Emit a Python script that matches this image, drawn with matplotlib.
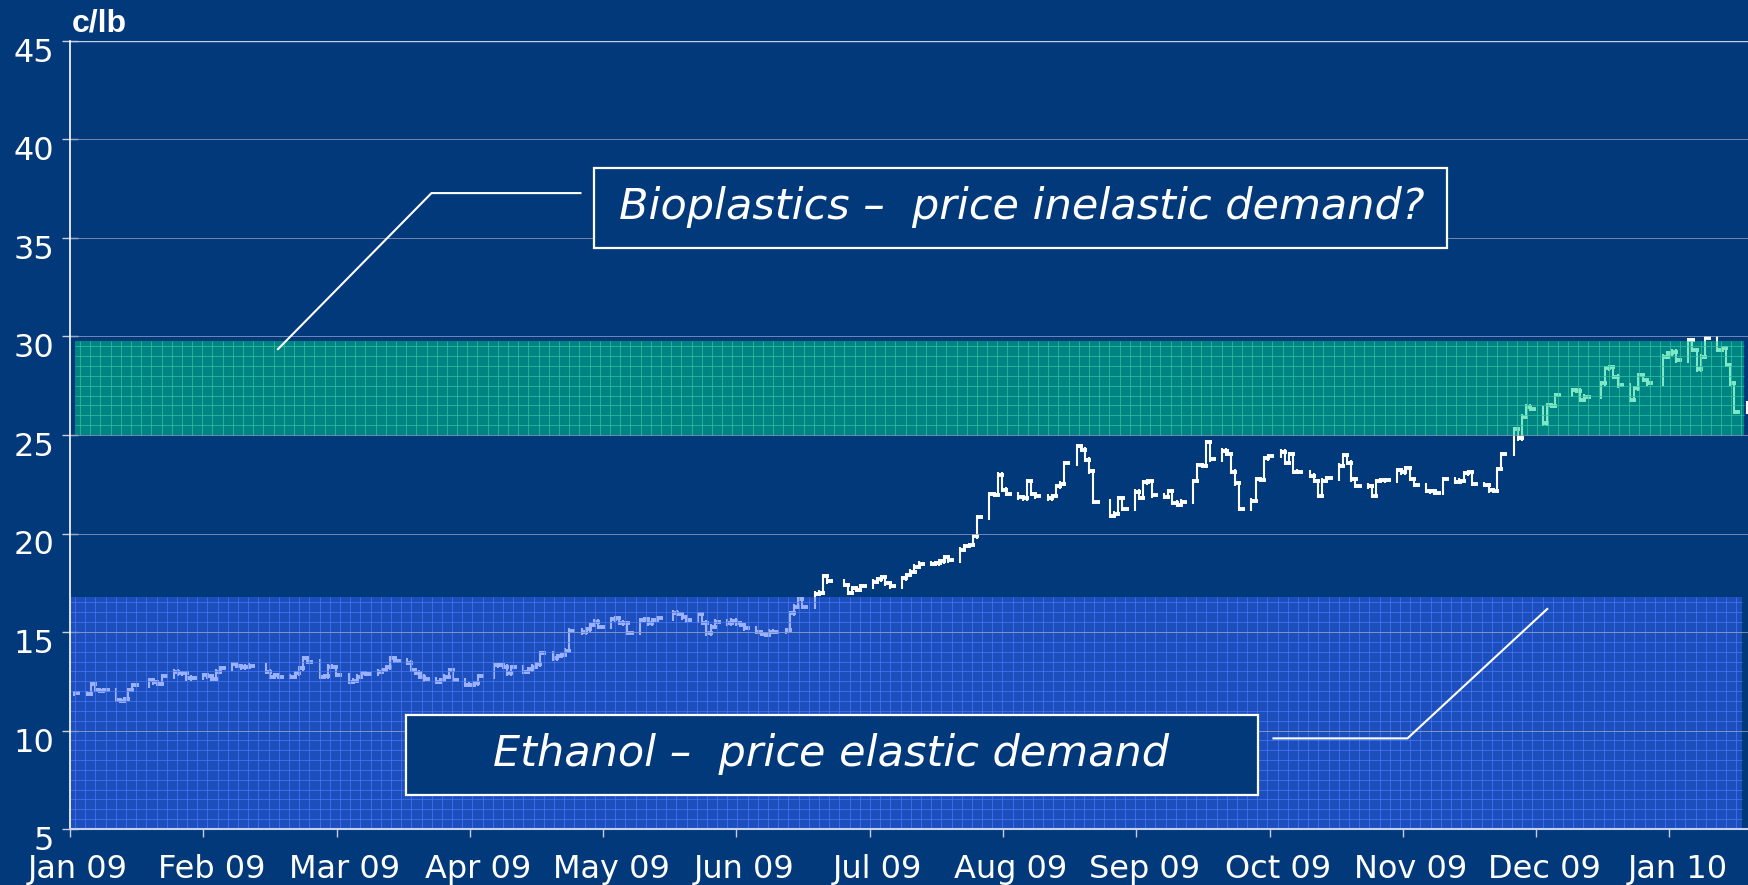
import matplotlib
matplotlib.use("Agg")
import matplotlib.pyplot as plt
from matplotlib.collections import LineCollection
from matplotlib.patches import Rectangle
from matplotlib.transforms import ScaledTranslation
import numpy as np
import pandas as pd

# Sugar #11 front month, daily closes in c/lb, one row per week (Mon..Fri),
# exchange holidays left out of the row
first_monday = "2008-12-29"
start_day = "2009-01-02"
end_day = "2010-02-08"
holidays = ["2009-01-01", "2009-01-19", "2009-02-16", "2009-04-10", "2009-05-25",
            "2009-07-03", "2009-09-07", "2009-11-26", "2009-12-25", "2010-01-01",
            "2010-01-18"]

weekly_close = [
    [11.88],
    [11.85, 12.35, 12.05, 12.00, 12.05],
    [11.55, 11.50, 11.60, 12.05, 12.30],
    [12.55, 12.45, 12.38, 12.75],
    [12.98, 12.90, 12.90, 12.65, 12.68],
    [12.82, 12.75, 12.62, 12.98, 13.15],
    [13.36, 13.28, 13.20, 13.24, 13.29],
    [12.98, 12.73, 12.82, 12.72],
    [12.73, 12.90, 13.15, 13.66, 13.49],
    [12.73, 12.75, 13.24, 13.22, 12.82],
    [12.48, 12.52, 12.73, 12.90, 12.88],
    [12.98, 13.07, 13.20, 13.66, 13.54],
    [13.44, 13.07, 12.93, 12.73, 12.60],
    [12.48, 12.56, 12.73, 13.07, 12.56],
    [12.31, 12.33, 12.39, 12.75],
    [13.32, 13.30, 13.24, 12.90, 13.20],
    [12.99, 13.10, 13.24, 13.36, 13.92],
    [13.66, 13.78, 13.83, 14.05, 15.07],
    [14.98, 15.14, 15.36, 15.52, 15.27],
    [15.64, 15.69, 15.47, 15.44, 14.97],
    [15.61, 15.64, 15.44, 15.61, 15.69],
    [15.98, 15.91, 15.74, 15.60],
    [15.90, 15.47, 14.93, 15.27, 15.52],
    [15.44, 15.58, 15.44, 15.36, 15.19],
    [15.00, 14.90, 14.85, 15.02, 15.00],
    [15.10, 15.95, 16.29, 16.66, 16.29],
    [16.95, 17.00, 17.82, 17.58],
    [17.39, 17.00, 17.22, 17.14, 17.31],
    [17.56, 17.68, 17.78, 17.48, 17.31],
    [17.73, 17.90, 18.07, 18.32, 18.46],
    [18.46, 18.49, 18.58, 18.80, 18.63],
    [19.17, 19.37, 19.42, 19.85, 20.83],
    [22.01, 21.96, 22.98, 22.22, 22.01],
    [21.84, 21.79, 22.67, 22.01, 21.88],
    [21.78, 21.91, 22.39, 22.52, 23.57],
    [24.42, 24.25, 23.74, 23.15, 21.62],
    [20.90, 21.00, 21.80, 21.24],
    [22.13, 21.80, 22.60, 22.66, 21.93],
    [21.87, 22.16, 21.57, 21.45, 21.62],
    [22.66, 23.48, 23.44, 24.63, 23.76],
    [24.20, 24.04, 23.14, 22.55, 21.24],
    [21.67, 22.77, 22.72, 23.82, 23.93],
    [24.15, 23.60, 24.04, 23.14, 23.12],
    [22.94, 22.66, 21.92, 22.68, 22.80],
    [23.44, 23.98, 23.60, 22.75, 22.43],
    [22.39, 21.92, 22.66, 22.72, 22.70],
    [23.22, 23.10, 23.31, 22.77, 22.46],
    [22.16, 22.14, 22.07, 22.77],
    [22.63, 22.68, 23.05, 23.10, 22.51],
    [22.46, 22.20, 22.17, 23.27, 24.04],
    [25.29, 24.83, 25.93, 26.44, 26.34],
    [25.59, 26.50, 26.49, 27.03],
    [27.28, 27.25, 26.78, 26.95],
    [27.62, 28.38, 28.43, 27.96, 27.52],
    [26.78, 27.37, 28.05, 27.79, 27.62],
    [28.98, 29.15, 29.23, 28.80],
    [29.82, 29.31, 28.33, 28.98, 29.90],
    [29.31, 29.40, 28.55, 27.62, 26.18],
    [26.60],
]

month_labels = ["Jan 09", "Feb 09", "Mar 09", "Apr 09", "May 09", "Jun 09", "Jul 09",
                "Aug 09", "Sep 09", "Oct 09", "Nov 09", "Dec 09", "Jan 10"]
label_step = 32.04   # days between the (evenly spaced) month labels
x_end = 403.6

# price bands
bio_band = (25, 29.75)
eth_band = (5, 16.8)

navy = "#01397a"


def build_series():
    hol = pd.to_datetime(holidays)
    first = pd.Timestamp(start_day)
    last = pd.Timestamp(end_day)
    origin = pd.Timestamp("2009-01-01")
    xs, cl = [], []
    monday = pd.Timestamp(first_monday)
    for week in weekly_close:
        days = [monday + pd.Timedelta(days=i) for i in range(5)]
        days = [d for d in days if d not in hol and first <= d <= last]
        for d, c in zip(days, week):
            xs.append((d - origin).days)
            cl.append(c)
        monday = monday + pd.Timedelta(days=7)
    return np.array(xs, dtype=float), np.array(cl)


x, close = build_series()
opens = np.r_[close[0], close[:-1]]   # bar starts at previous close
high = np.maximum(opens, close) + 0.12
low = np.minimum(opens, close) - 0.12

fig = plt.figure(figsize=(17.49, 8.85), dpi=100, facecolor=navy)
ax = fig.add_axes([70 / 1749, 1 - 829 / 885, 1679 / 1749, 788 / 885])
ax.set_facecolor(navy)
ax.set_xlim(0, x_end)
ax.set_ylim(5, 45)

# hlc bars
wicks = [[(xi, lo), (xi, hi)] for xi, lo, hi in zip(x, low, high)]
ticks = [[(xi, c), (xi + 1.5, c)] for xi, c in zip(x, close)]
ax.add_collection(LineCollection(wicks, colors="white", linewidths=1.5, zorder=2))
ax.add_collection(LineCollection(ticks, colors="white", linewidths=2.8, zorder=2))


def band(x0, x1, y0, y1, fill, line):
    ax.add_patch(Rectangle((x0, y0), x1 - x0, y1 - y0, facecolor=fill, alpha=0.5,
                           edgecolor="none", zorder=3))
    ax.vlines(np.arange(x0 + 1.2, x1, 2.45), y0, y1, colors=line, linewidth=0.7,
              alpha=0.7, zorder=3.2)
    ax.hlines(np.arange(y0 + 0.5, y1, 0.5), x0, x1, colors=line, linewidth=0.7,
              alpha=0.7, zorder=3.2)


band(1.2, 402.3, bio_band[0], bio_band[1], "#00d08c", "#30c8a0")
band(0, 401.9, eth_band[0], eth_band[1], "#3a66ff", "#4a78ff")

# horizontal grid
for yv in range(10, 45, 5):
    ax.axhline(yv, color="#8f9cc0", linewidth=0.7, alpha=0.8, zorder=4)
ax.axhline(45, color="#c8d0e4", linewidth=1.0, zorder=4)

# annotation boxes and leader lines
ax.add_patch(Rectangle((126.0, 34.51), 205.1, 4.02, facecolor=navy, edgecolor="white",
                       linewidth=1.6, zorder=5))
ax.text(228.8, 36.55, "Bioplastics \u2013  price inelastic demand?", color="white",
        fontsize=31, style="italic", ha="center", va="center", zorder=6)
ax.plot([122.7, 86.9, 50.0], [37.28, 37.28, 29.36], color="white", linewidth=1.5, zorder=5)

ax.add_patch(Rectangle((80.7, 6.73), 204.8, 4.06, facecolor=navy, edgecolor="white",
                       linewidth=1.6, zorder=5))
ax.text(183.0, 8.81, "Ethanol \u2013  price elastic demand", color="white",
        fontsize=31, style="italic", ha="center", va="center", zorder=6)
ax.plot([289.3, 321.5, 355.1], [9.6, 9.6, 16.17], color="white", linewidth=1.5, zorder=5)

# axes styling
for side in ["top", "right"]:
    ax.spines[side].set_visible(False)
ax.spines["left"].set_color("white")
ax.spines["left"].set_linewidth(1.2)
ax.spines["bottom"].set_color("#c8d0f0")
ax.spines["bottom"].set_linewidth(1.5)
ax.spines["left"].set_zorder(6)
ax.spines["bottom"].set_zorder(6)

ax.set_yticks(range(5, 50, 5))
ax.set_xticks([i * label_step for i in range(len(month_labels))])
ax.set_xticklabels(month_labels)
ax.tick_params(axis="y", direction="inout", length=11, width=1, color="#c8cce0",
               labelcolor="white", labelsize=23, pad=6)
ax.tick_params(axis="x", direction="out", length=6, width=1, color="#c8cce0",
               labelcolor="white", labelsize=23, pad=12)

down = ScaledTranslation(0, -9 / 100, fig.dpi_scale_trans)
for lab in ax.get_yticklabels():
    lab.set_transform(lab.get_transform() + down)
right = ScaledTranslation(8 / 100, 0, fig.dpi_scale_trans)
for lab in ax.get_xticklabels():
    lab.set_transform(lab.get_transform() + right)

fig.text(72 / 1749, 1 - 32 / 885, "c/lb", color="white", fontsize=23,
         fontweight="bold", family="Liberation Sans", va="baseline")

fig.savefig("out.png", dpi=100, facecolor=navy)
